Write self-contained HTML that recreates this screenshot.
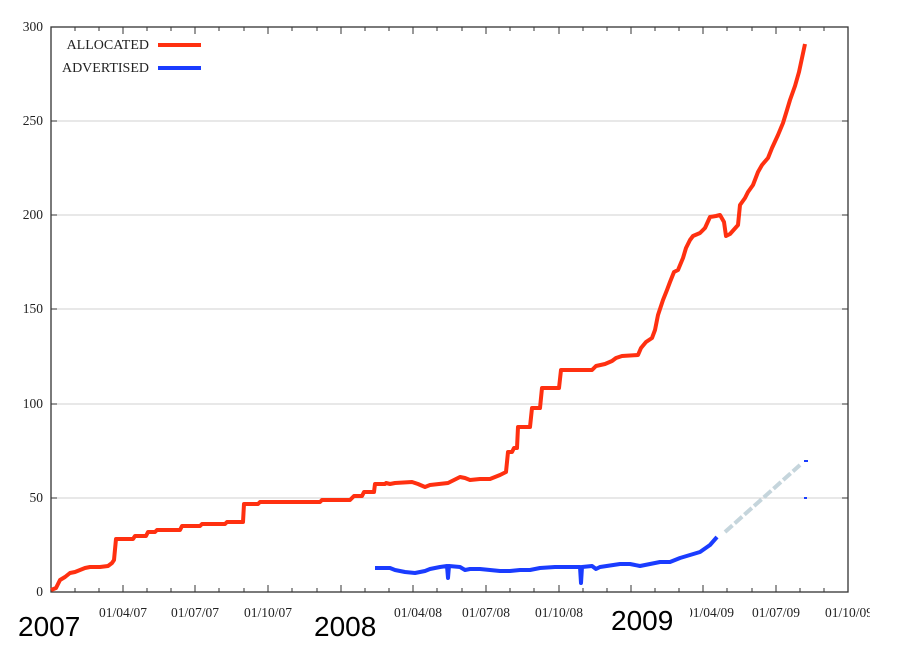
<!DOCTYPE html>
<html><head><style>body{margin:0;background:#fff}svg{display:block}</style></head><body>
<svg width="903" height="649" xmlns="http://www.w3.org/2000/svg">
<g stroke="#d0d0d0" stroke-width="1">
<line x1="51" y1="121" x2="848" y2="121"/><line x1="51" y1="215" x2="848" y2="215"/><line x1="51" y1="309" x2="848" y2="309"/><line x1="51" y1="404" x2="848" y2="404"/><line x1="51" y1="498" x2="848" y2="498"/>
</g>
<rect x="51" y="27" width="797" height="565" fill="none" stroke="#333" stroke-width="1.3"/>
<g stroke="#333" stroke-width="1">
<path d="M51 121h6M51 215h6M51 309h6M51 404h6M51 498h6M848 121h-6M848 215h-6M848 309h-6M848 404h-6M848 498h-6"/>
<path d="M123 592v-7M195 592v-7M268 592v-7M341 592v-7M413 592v-7M486 592v-7M559 592v-7M631 592v-7M703 592v-7M776 592v-7M123 27v7M195 27v7M268 27v7M341 27v7M413 27v7M486 27v7M559 27v7M631 27v7M703 27v7M776 27v7"/>
<path d="M75 592v-4M99 592v-4M147 592v-4M171 592v-4M219 592v-4M244 592v-4M292 592v-4M317 592v-4M365 592v-4M389 592v-4M437 592v-4M462 592v-4M510 592v-4M534 592v-4M583 592v-4M607 592v-4M655 592v-4M679 592v-4M727 592v-4M752 592v-4M800 592v-4M824 592v-4M75 27v4M99 27v4M147 27v4M171 27v4M219 27v4M244 27v4M292 27v4M317 27v4M365 27v4M389 27v4M437 27v4M462 27v4M510 27v4M534 27v4M583 27v4M607 27v4M655 27v4M679 27v4M727 27v4M752 27v4M800 27v4M824 27v4"/>
</g>
<g font-family="Liberation Serif, serif" font-size="13.5" fill="#222" text-anchor="end">
<text x="43" y="31">300</text><text x="43" y="125">250</text><text x="43" y="219">200</text><text x="43" y="313">150</text><text x="43" y="408">100</text><text x="43" y="502">50</text><text x="43" y="596">0</text>
</g>
<g font-family="Liberation Serif, serif" font-size="13.5" fill="#222" text-anchor="middle">
<text x="123" y="617">01/04/07</text><text x="195" y="617">01/07/07</text><text x="268" y="617">01/10/07</text><text x="418" y="617">01/04/08</text><text x="486" y="617">01/07/08</text><text x="559" y="617">01/10/08</text><text x="710" y="617">01/04/09</text><text x="776" y="617">01/07/09</text><text x="849" y="617">01/10/09</text>
</g>
<rect x="376" y="600" width="16" height="20" fill="#fff"/><rect x="676" y="600" width="14" height="20" fill="#fff"/><rect x="870" y="600" width="33" height="20" fill="#fff"/>
<g font-family="Liberation Sans, sans-serif" font-size="28" fill="#000">
<text x="18" y="636">2007</text><text x="314" y="636">2008</text><text x="611" y="630">2009</text>
</g>
<g font-family="Liberation Serif, serif" font-size="14" fill="#222" text-anchor="end">
<text x="149" y="49">ALLOCATED</text><text x="149" y="72">ADVERTISED</text>
</g>
<line x1="158" y1="45" x2="201" y2="45" stroke="#ff3010" stroke-width="4"/>
<line x1="158" y1="68" x2="201" y2="68" stroke="#1a3cff" stroke-width="4"/>
<line x1="725" y1="532" x2="800" y2="465" stroke="#c5d5dc" stroke-width="4" stroke-dasharray="10,3"/>
<path d="M804 461h4M804 498h3" stroke="#1a3cff" stroke-width="2"/>
<polyline fill="none" stroke="#ff3010" stroke-width="4" stroke-linejoin="round" points="51,590 56,588 60,580 65,577 70,573 75,572 80,570 85,568 90,567 100,567 108,566 112,563 114,560 116,539 133,539 135,536 146,536 148,532 155,532 157,530 180,530 182,526 200,526 202,524 225,524 227,522 243,522 244,504 258,504 260,502 320,502 322,500 350,500 354,496 362,496 364,492 374,492 375,484 385,484 386,483 390,484 395,483 412,482 418,484 425,487 430,485 448,483 452,481 456,479 460,477 465,478 470,480 480,479 490,479 495,477 500,475 506,472 508,452 512,452 514,448 517,448 518,427 530,427 532,408 540,408 542,388 559,388 561,370 592,370 596,366 605,364 612,361 616,358 622,356 638,355 641,348 646,342 652,338 655,330 658,315 663,300 667,290 670,282 674,272 678,270 683,258 686,248 690,240 693,236 700,233 705,228 710,217 716,216 720,215 724,222 726,236 730,234 738,225 740,205 745,198 748,192 753,185 758,172 762,165 768,158 772,148 778,135 783,123 787,110 790,100 795,86 799,72 802,58 805,44"/>
<polyline fill="none" stroke="#1a3cff" stroke-width="4" stroke-linejoin="round" points="375,568 390,568 395,570 405,572 415,573 425,571 430,569 440,567 447,566 448,578 449,566 460,567 465,570 470,569 480,569 490,570 500,571 510,571 520,570 530,570 540,568 555,567 570,567 580,567 581,583 582,567 592,566 596,569 600,567 620,564 630,564 640,566 660,562 670,562 680,558 690,555 700,552 710,545 717,537"/>
</svg>
</body></html>
